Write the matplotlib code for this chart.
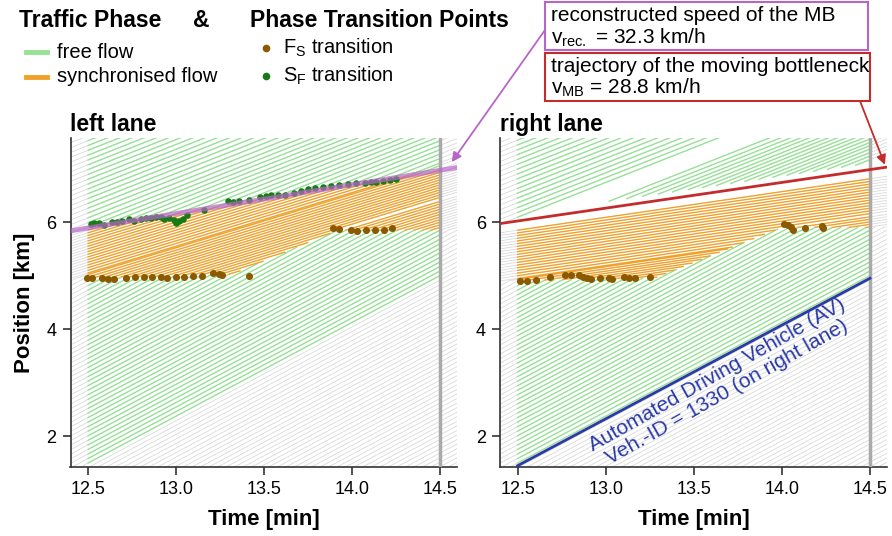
import numpy as np
import matplotlib.pyplot as plt
from matplotlib.lines import Line2D
from matplotlib.patches import Rectangle

plt.rcParams['font.family'] = ['Liberation Sans', 'DejaVu Sans']

# analysed time window [min] and axis ranges
T_WINDOW = [12.5, 14.5]
X_LIM = [12.40, 14.597]
Y_LIM = [1.426, 7.57]
X_TICKS = [12.5, 13.0, 13.5, 14.0, 14.5]
Y_TICKS = [2, 4, 6]

# speeds [km/min]
V_FREE = 1.75          # free flow below the jam (~105 km/h)
V_UPPER = 1.3          # free flow downstream of the moving bottleneck
V_SYNC_LEFT = 1.0
V_SYNC_RIGHT = 0.48
V_REC = 32.3           # km/h, reconstructed speed of the MB (left lane)
V_MB = 28.8            # km/h, moving bottleneck (right lane)
MB_POS_LEFT = 5.89     # km at t = 12.5
MB_POS_RIGHT = 6.02
AV_POS = 1.45          # AV position at t = 12.5 [km]

# upstream front of synchronised flow (time [min], position [km])
LEFT_FRONT_T = [12.40, 13.32, 13.92, 14.60]
LEFT_FRONT_X = [4.95, 5.03, 5.85, 5.85]
RIGHT_FRONT_T = [12.40, 13.28, 14.00, 14.60]
RIGHT_FRONT_X = [4.90, 4.96, 5.90, 5.90]

# vehicle spacing [km] and share of vehicles that stay in lane at the front
GAP_FREE = 0.085
GAP_SYNC = 0.05
GAP_UPPER = 0.09
LEFT_KEEP = 1.0
RIGHT_KEEP = 0.5

# vehicles changing into the right lane just ahead of the MB [min]
RIGHT_MERGE_T = [13.02, 13.12, 13.21, 13.30, 13.38, 13.47, 13.55, 13.63, 13.71, 13.79,
                 13.87, 13.95, 14.03, 14.10, 14.18, 14.26, 14.34, 14.42]
MERGE_OFFSET = 0.12

# F_S transitions (brown) and S_F transitions (green)
LEFT_FS_T = [12.496, 12.524, 12.581, 12.615, 12.648, 12.714, 12.767, 12.815, 12.866,
             12.914, 12.946, 12.999, 13.048, 13.097, 13.147, 13.212, 13.242, 13.261,
             13.413, 13.891, 13.929, 13.996, 14.030, 14.081, 14.129, 14.180, 14.229]
LEFT_FS_X = [4.96, 4.95, 4.96, 4.94, 4.93, 4.96, 4.97, 4.97, 4.98,
             4.98, 4.96, 4.98, 4.98, 4.99, 4.99, 5.05, 5.03, 5.02,
             4.99, 5.88, 5.87, 5.86, 5.84, 5.85, 5.85, 5.86, 5.88]
LEFT_SF_T = [12.515, 12.534, 12.563, 12.591, 12.638, 12.667, 12.695, 12.733, 12.762,
             12.800, 12.829, 12.857, 12.886, 12.914, 12.933, 12.961, 12.990, 12.999,
             13.018, 13.037, 13.065, 13.161, 13.293, 13.322, 13.360, 13.417, 13.480,
             13.510, 13.540, 13.580, 13.620, 13.673, 13.711, 13.749, 13.787, 13.834,
             13.882, 13.929, 13.977, 14.024, 14.072, 14.110, 14.138, 14.176, 14.214,
             14.248]
LEFT_SF_X = [5.957, 5.976, 5.987, 5.944, 6.006, 5.994, 6.024, 6.050, 6.024,
             6.050, 6.069, 6.080, 6.088, 6.088, 6.050, 6.069, 6.037, 5.987,
             6.024, 6.050, 6.131, 6.224, 6.393, 6.379, 6.398, 6.411, 6.470,
             6.490, 6.500, 6.510, 6.500, 6.548, 6.585, 6.611, 6.630, 6.649,
             6.673, 6.692, 6.705, 6.723, 6.735, 6.742, 6.753, 6.772, 6.785,
             6.798]
RIGHT_FS_T = [12.513, 12.551, 12.603, 12.684, 12.768, 12.802, 12.849, 12.869, 12.893,
              12.916, 12.969, 13.020, 13.034, 13.102, 13.134, 13.167, 13.252,
              14.014, 14.033, 14.052, 14.065, 14.131, 14.230, 14.232]
RIGHT_FS_X = [4.90, 4.90, 4.92, 4.97, 5.02, 5.02, 5.02, 4.98, 4.95,
              4.93, 4.96, 4.96, 4.93, 4.97, 4.95, 4.95, 4.98,
              5.96, 5.94, 5.91, 5.86, 5.89, 5.92, 5.88]

GREY = '#d9d9d9'
GREEN = '#96e396'
ORANGE = '#f2a128'
BROWN = '#8b5a00'
DKGREEN = '#177a17'
PURPLE = '#b865c8'
RED = '#c42b2b'
BLUE = '#2a3aa6'


# simple kinematic model: speed depends on the traffic phase at (t, x);
# vehicles swept out by a rising front (and a share of new arrivals) change lane
def simulate(x0, front_t, front_x, mb_pos, mb_speed, v_sync, top_offset, keep):
    t = np.arange(X_LIM[0], X_LIM[1] + 0.002, 0.002)
    n = len(x0)
    X = np.full((len(t), n), np.nan)
    S = np.zeros((len(t), n), dtype=bool)
    X[0] = x0
    alive = np.ones(n, dtype=bool)
    was_sync = np.zeros(n, dtype=bool)
    count = 0
    for i in range(len(t)):
        x = X[i]
        lower = np.interp(t[i], front_t, front_x)
        upper = mb_pos + mb_speed * (t[i] - 12.5) - top_offset
        sync = alive & (x >= lower) & (x < upper)
        if i > 0:
            alive &= ~(was_sync & ~sync & (x < lower))
            for j in np.where(sync & ~was_sync)[0]:
                if np.floor((count + 1) * keep) == np.floor(count * keep):
                    alive[j] = False
                count += 1
        sync &= alive
        X[i, ~alive] = np.nan
        S[i] = sync
        was_sync = sync
        if i + 1 < len(t):
            v = np.where(x >= upper, V_UPPER, np.where(sync, v_sync, V_FREE))
            X[i + 1] = x + v * (t[i + 1] - t[i])
    return t, X, S


def joined(t, X, mask=None):
    # all vehicles into one line, separated by NaN
    Y = X.copy()
    if mask is not None:
        Y[~mask] = np.nan
    tt = np.vstack([np.tile(t[:, None], (1, X.shape[1])), np.full((1, X.shape[1]), np.nan)])
    yy = np.vstack([Y, np.full((1, X.shape[1]), np.nan)])
    return tt.T.ravel(), yy.T.ravel()


def draw_lane(ax, x0, front_t, front_x, mb_pos, mb_kmh, v_sync, top_offset, keep, merges=()):
    t, X, S = simulate(np.array(x0), front_t, front_x, mb_pos, mb_kmh / 60, v_sync,
                       top_offset, keep)
    # vehicles entering the lane ahead of the MB
    if len(merges):
        M = np.full((len(t), len(merges)), np.nan)
        for k, tm in enumerate(merges):
            on = t >= tm
            M[on, k] = mb_pos + mb_kmh / 60 * (tm - 12.5) + MERGE_OFFSET + V_UPPER * (t[on] - tm)
        X = np.hstack([X, M])
        S = np.hstack([S, np.zeros_like(M, dtype=bool)])
    gx, gy = joined(t, X)
    ax.plot(gx, gy, color=GREY, lw=0.6, zorder=1)
    idx = np.searchsorted(t, T_WINDOW[0])
    keep_v = ~(X[idx] < AV_POS - 0.01)
    Xc, Sc = X[:, keep_v], S[:, keep_v]
    win = ((t >= T_WINDOW[0]) & (t <= T_WINDOW[1]))[:, None]
    gx, gy = joined(t, Xc, win & ~Sc)
    ax.plot(gx, gy, color=GREEN, lw=0.95, zorder=2)
    gx, gy = joined(t, Xc, win & Sc)
    ax.plot(gx, gy, color=ORANGE, lw=0.95, zorder=3)


def style(ax, title):
    ax.set_xlim(X_LIM)
    ax.set_ylim(Y_LIM)
    ax.set_xticks(X_TICKS)
    ax.set_xticklabels(['%.1f' % v for v in X_TICKS])
    ax.set_yticks(Y_TICKS)
    for s in ['top', 'right']:
        ax.spines[s].set_visible(False)
    for s in ['left', 'bottom']:
        ax.spines[s].set_color('#333333')
        ax.spines[s].set_linewidth(1.2)
    ax.tick_params(length=6, width=1.2, color='#333333', labelsize=13, pad=4)
    ax.set_xlabel('Time [min]', fontsize=16, fontweight='bold', labelpad=8)
    ax.axvline(T_WINDOW[1], color='#aaaaaa', lw=2.5, zorder=4)
    ax.text(0.0, 1 + 7 / 329, title, transform=ax.transAxes, fontsize=16.5,
            fontweight='bold', ha='left', va='baseline')


fig = plt.figure(figsize=(8.92, 5.36), dpi=100)
ax1 = fig.add_axes([70.5 / 892, 1 - 467 / 536, 386.5 / 892, 329 / 536])
ax2 = fig.add_axes([500 / 892, 1 - 467 / 536, 387 / 892, 329 / 536])

# vehicles at the start of the simulation
left_x0 = np.concatenate([np.arange(-2.5, 4.95, GAP_FREE),
                          np.arange(4.95, 5.83, GAP_SYNC),
                          np.arange(5.86, 9.0, GAP_UPPER)])
draw_lane(ax1, left_x0, LEFT_FRONT_T, LEFT_FRONT_X, MB_POS_LEFT, V_REC, V_SYNC_LEFT,
          0.0, LEFT_KEEP)

right_x0 = np.concatenate([np.arange(-2.5, 4.90, GAP_FREE),
                           np.arange(4.90, 5.82, GAP_SYNC),
                           np.arange(5.96, 9.0, GAP_UPPER)])
draw_lane(ax2, right_x0, RIGHT_FRONT_T, RIGHT_FRONT_X, MB_POS_RIGHT, V_MB, V_SYNC_RIGHT,
          0.06, RIGHT_KEEP, RIGHT_MERGE_T)

# transitions
ax1.scatter(LEFT_FS_T, LEFT_FS_X, s=26, color=BROWN, zorder=5, lw=0)
ax1.scatter(LEFT_SF_T, LEFT_SF_X, s=22, color=DKGREEN, zorder=5, lw=0)
ax2.scatter(RIGHT_FS_T, RIGHT_FS_X, s=26, color=BROWN, zorder=5, lw=0)

# reconstructed MB (left) and MB trajectory (right)
tt = np.array(X_LIM)
ax1.plot(tt, MB_POS_LEFT + V_REC / 60 * (tt - 12.5), color=PURPLE, lw=3.5, alpha=0.7, zorder=6)
ax2.plot(tt, MB_POS_RIGHT + V_MB / 60 * (tt - 12.5), color=RED, lw=2, zorder=6)

# automated vehicle
ta = np.array(T_WINDOW)
ax2.plot(ta, AV_POS + V_FREE * (ta - 12.5), color=BLUE, lw=2, zorder=6, clip_on=False)
ax2.text(13.66, 2.98, 'Automated Driving Vehicle (AV)\nVeh.-ID = 1330 (on right lane)',
         color=BLUE, fontsize=15, rotation=29.5, ha='center', va='center',
         rotation_mode='anchor', linespacing=1.0, zorder=7)

style(ax1, 'left lane')
style(ax2, 'right lane')
ax1.set_ylabel('Position [km]', fontsize=16, fontweight='bold', labelpad=8)

# legend block
H = 536
fig.text(19 / 892, 1 - 27 / H, 'Traffic Phase', fontsize=16.5, fontweight='bold', va='baseline')
fig.text(193 / 892, 1 - 27 / H, '&', fontsize=16.5, fontweight='bold', va='baseline')
fig.text(250 / 892, 1 - 27 / H, 'Phase Transition Points', fontsize=16.5, fontweight='bold', va='baseline')
for y, c, lab in [(52, GREEN, 'free flow'), (77, ORANGE, 'synchronised flow')]:
    fig.add_artist(Line2D([26 / 892, 47 / 892], [1 - y / H] * 2, color=c, lw=3.5))
    fig.text(57 / 892, 1 - (y + 5.5) / H, lab, fontsize=14.5, va='baseline')
for y, c, lab in [(48, BROWN, r'F$_\mathregular{S}$ transition'),
                  (76, DKGREEN, r'S$_\mathregular{F}$ transition')]:
    fig.add_artist(Line2D([266 / 892], [1 - y / H], ls='none', marker='o', ms=5.5,
                          color=c, mec='none'))
    fig.text(283 / 892, 1 - (y + 5.5) / H, lab, fontsize=14.5, va='baseline')

# annotation boxes
fig.add_artist(Rectangle((545 / 892, 1 - 50 / H), 323 / 892, 48 / H,
                         transform=fig.transFigure, fill=True, facecolor='white',
                         edgecolor=PURPLE, lw=1.5, zorder=10))
fig.text(551 / 892, 1 - 21 / H, 'reconstructed speed of the MB', fontsize=15, va='baseline', zorder=11)
fig.text(551 / 892, 1 - 43 / H, r'v$_\mathregular{rec.}$ = 32.3 km/h', fontsize=15, va='baseline', zorder=11)
fig.add_artist(Rectangle((545 / 892, 1 - 101 / H), 325 / 892, 48 / H,
                         transform=fig.transFigure, fill=True, facecolor='white',
                         edgecolor=RED, lw=1.5, zorder=10))
fig.text(551 / 892, 1 - 72 / H, 'trajectory of the moving bottleneck', fontsize=15, va='baseline', zorder=11)
fig.text(551 / 892, 1 - 93 / H, r'v$_\mathregular{MB}$ = 28.8 km/h', fontsize=15, va='baseline', zorder=11)

ax1.annotate('', xy=(14.567, 7.12), xycoords='data', xytext=(545 / 892, 1 - 30 / H),
             textcoords='figure fraction', annotation_clip=False,
             arrowprops=dict(arrowstyle='-|>', color=PURPLE, lw=1.3, mutation_scale=14,
                             shrinkA=0, shrinkB=0), zorder=12)
ax2.annotate('', xy=(14.585, 7.07), xycoords='data', xytext=(860 / 892, 1 - 101 / H),
             textcoords='figure fraction', annotation_clip=False,
             arrowprops=dict(arrowstyle='-|>', color=RED, lw=1.3, mutation_scale=14,
                             shrinkA=0, shrinkB=0), zorder=12)

fig.savefig('out.png', dpi=100)
